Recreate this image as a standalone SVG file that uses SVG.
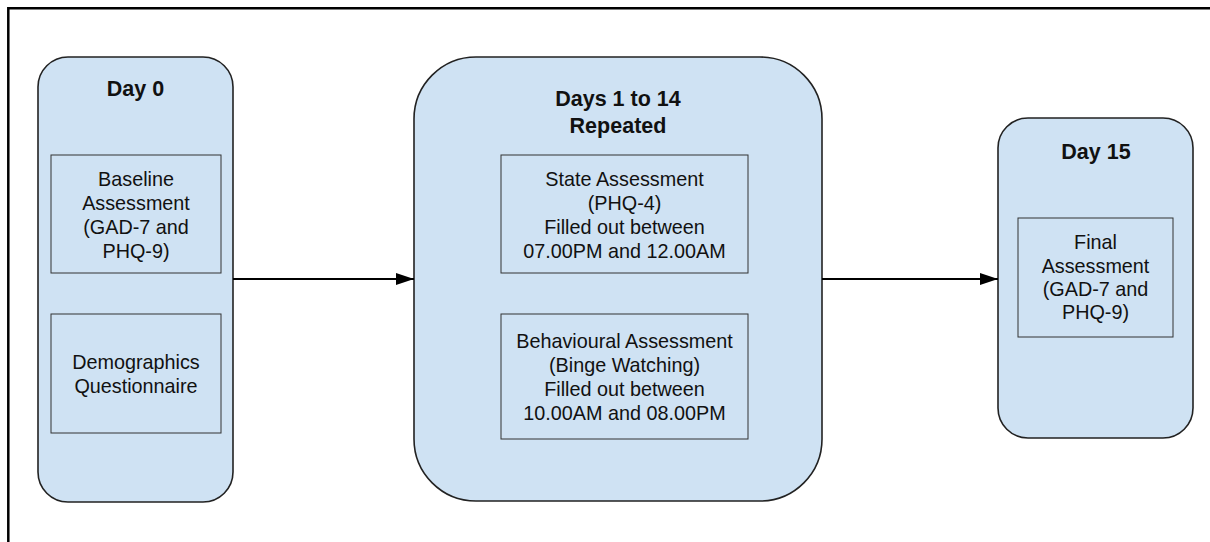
<svg xmlns="http://www.w3.org/2000/svg" width="1210" height="542" viewBox="0 0 1210 542">
<style>
.stage{fill:#cfe2f3;stroke:#222;stroke-width:1.6}
.item{fill:#cfe2f3;stroke:#333;stroke-width:1}
.title{font-family:"Liberation Sans",Arial,sans-serif;font-weight:bold;font-size:21.5px;fill:#111;text-anchor:middle}
.txt{font-family:"Liberation Sans",Arial,sans-serif;font-size:19.8px;fill:#111;text-anchor:middle}
.conn{stroke:#000;stroke-width:2;fill:none}
</style>
<defs>
<marker id="arrow" markerWidth="18" markerHeight="12" refX="18" refY="6" orient="auto" markerUnits="userSpaceOnUse">
<path d="M0,0 L18,6 L0,12 Z" fill="#000"/>
</marker>
</defs>
<rect width="1210" height="542" fill="#fff"/>
<path d="M8.3,542 L8.3,8.3 L1210,8.3" fill="none" stroke="#000" stroke-width="2.5"/>
<g id="day0">
<rect class="stage" x="38" y="57" width="195" height="445" rx="30" ry="30"/>
<text class="title" x="135.5" y="96">Day 0</text>
<g id="baseline">
<rect class="item" x="51" y="155" width="170" height="118"/>
<text class="txt" x="136" y="186">Baseline</text>
<text class="txt" x="136" y="210">Assessment</text>
<text class="txt" x="136" y="234">(GAD-7 and</text>
<text class="txt" x="136" y="258">PHQ-9)</text>
</g>
<g id="demographics">
<rect class="item" x="51" y="314" width="170" height="119"/>
<text class="txt" x="136" y="369">Demographics</text>
<text class="txt" x="136" y="393">Questionnaire</text>
</g>
</g>
<g id="days1to14">
<rect class="stage" x="414" y="57" width="408" height="444" rx="62" ry="62"/>
<text class="title" x="618" y="106">Days 1 to 14</text>
<text class="title" x="618" y="133">Repeated</text>
<g id="state">
<rect class="item" x="501" y="155" width="247" height="118"/>
<text class="txt" x="624.5" y="186">State Assessment</text>
<text class="txt" x="624.5" y="210">(PHQ-4)</text>
<text class="txt" x="624.5" y="234">Filled out between</text>
<text class="txt" x="624.5" y="258">07.00PM and 12.00AM</text>
</g>
<g id="behavioural">
<rect class="item" x="501" y="314" width="247" height="125"/>
<text class="txt" x="624.5" y="348">Behavioural Assessment</text>
<text class="txt" x="624.5" y="372">(Binge Watching)</text>
<text class="txt" x="624.5" y="396">Filled out between</text>
<text class="txt" x="624.5" y="420">10.00AM and 08.00PM</text>
</g>
</g>
<g id="day15">
<rect class="stage" x="998" y="118" width="195" height="320" rx="30" ry="30"/>
<text class="title" x="1096" y="159">Day 15</text>
<g id="final">
<rect class="item" x="1018" y="218" width="155" height="119"/>
<text class="txt" x="1095.5" y="249">Final</text>
<text class="txt" x="1095.5" y="273">Assessment</text>
<text class="txt" x="1095.5" y="296">(GAD-7 and</text>
<text class="txt" x="1095.5" y="319">PHQ-9)</text>
</g>
</g>
<g id="connectors">
<line class="conn" x1="233" y1="279" x2="414" y2="279" marker-end="url(#arrow)"/>
<line class="conn" x1="822" y1="279" x2="998" y2="279" marker-end="url(#arrow)"/>
</g>
</svg>
